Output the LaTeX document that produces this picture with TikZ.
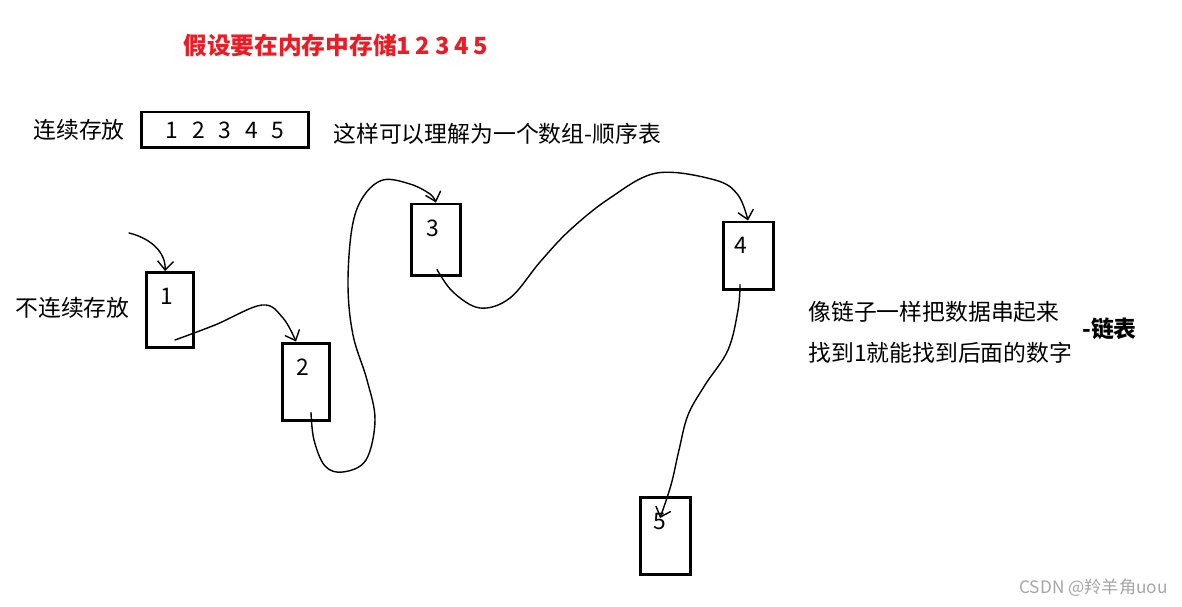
\documentclass[tikz,border=0pt]{standalone}
\usepackage{fontspec}
\setmainfont{Noto Sans CJK SC}
\usetikzlibrary{arrows.meta}
\definecolor{titlered}{RGB}{237,28,36}

\begin{document}
\begin{tikzpicture}[x=0.02cm, y=-0.02cm,
			>={Straight Barb[length=5pt,width=9pt]},
			every node/.style={inner sep=0pt, font=\fontsize{13pt}{15pt}\selectfont},
			cell/.style={draw, line width=1.7pt, minimum width=0.94cm, minimum height=1.5cm},
			link/.style={->, line width=0.8pt, line cap=round}
			]
			\useasboundingbox (0,0) rectangle (1182,607);
			
			% kop
			\node[anchor=west, text=titlered, font=\fontsize{13.5pt}{15pt}\selectfont\bfseries] (title) at (183,45) {假设要在内存中存储1\hspace{.2em}2\hspace{.2em}3\hspace{.2em}4\hspace{.2em}5};
			
			% aaneengesloten opslag
			\node[anchor=west] (seqtxt) at (33,130) {连续存放};
			\node[draw, line width=1.7pt, minimum width=3.36cm, minimum height=0.72cm] (seqbox) at (225,130) {1\hspace{.6em}2\hspace{.6em}3\hspace{.6em}4\hspace{.6em}5};
			\node[anchor=west] (seqnote) at (333,134) {这样可以理解为一个数组-顺序表};
			
			% verspreide opslag
			\node[anchor=west] (linktxt) at (15,308) {不连续存放};
			\node[cell, label={[anchor=north, yshift=-9.5pt, xshift=-2pt]north:1}] (box1) at (170,310) {};
			\node[cell, minimum height=1.56cm, label={[anchor=north, yshift=-9.5pt, xshift=-2pt]north:2}] (box2) at (306,382) {};
			\node[cell, minimum width=0.98cm, minimum height=1.44cm, label={[anchor=north, yshift=-9.5pt, xshift=-2pt]north:3}] (box3) at (436,240) {};
			\node[cell, minimum width=1cm, minimum height=1.36cm, label={[anchor=north, yshift=-9.5pt, xshift=-4pt]north:4}] (box4) at (748,256) {};
			\node[cell, minimum width=1cm, minimum height=1.54cm, label={[anchor=north, yshift=-9.5pt, xshift=-3pt]north:5}] (box5) at (665,536) {};
			
			% uitleg rechts
			\node[anchor=west] (chain) at (808,312) {像链子一样把数据串起来};
			\node[anchor=west] (find) at (808,353) {找到1就能找到后面的数字};
			\node[anchor=west, font=\fontsize{13pt}{15pt}\selectfont\bfseries] (listname) at (1082,329) {-链表};
			\node[anchor=east, text=black!35, font=\fontsize{9.8pt}{12pt}\selectfont] (mark) at (1168,588) {CSDN @羚羊角uou};
			
			% beginpunten van de pijlen
			\coordinate (entry) at (129,233);
			\coordinate (out1) at ([shift={(5,-9)}]box1.south);
			\coordinate (out2) at ([shift={(5,-10)}]box2.south);
			\coordinate (out3) at ([shift={(1,-8)}]box3.south);
			\coordinate (out4) at ([shift={(-8,-7)}]box4.south);
			\coordinate (in2) at ([shift={(-10,0)}]box2.north);
			\coordinate (in5) at ([shift={(-5,22)}]box5.north);
			
			% pijlen
			\draw[link] (entry) .. controls (150,238) and (166,252) .. ([shift={(-5,0)}]box1.north);
			\draw[link] plot[smooth, tension=.6] coordinates {(out1) (215,325) (262,305) (283,318) (in2)};
			\draw[link] plot[smooth, tension=.6] coordinates {(out2) (314,440) (325,466) (343,472) (366,460) (375,420) (367,380) (353,335) (348,285) (352,228) (363,197) (383,180) (410,184) (430,194) (box3.north)};
			\draw[link] plot[smooth, tension=.6] coordinates {(out3) (453,292) (480,308) (510,298) (540,262) (570,230) (610,198) (657,173) (715,180) (738,195) (box4.north)};
			\draw[link] plot[smooth, tension=.6] coordinates {(out4) (738,310) (728,350) (705,385) (688,415) (679,450) (671,485) (in5)};
			
		\end{tikzpicture}
\end{document}
